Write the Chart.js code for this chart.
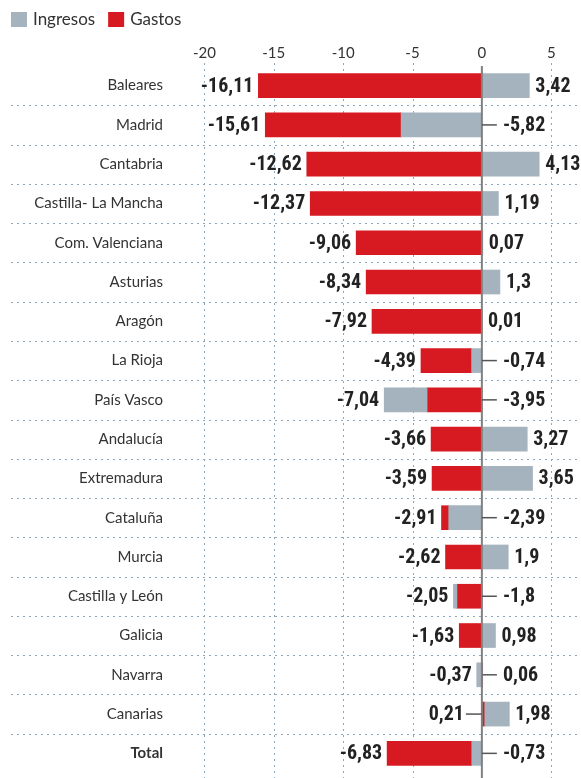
<!DOCTYPE html>
<html>
<head>
<meta charset="utf-8">
<script src="https://cdn.jsdelivr.net/npm/chart.js@4.4.1/dist/chart.umd.min.js"></script>
<style>
  body { margin: 0; background: #fff; }
  canvas { display: block; }
</style>
</head>
<body>
<canvas id="mycanvas" width="581" height="778"></canvas>
<script>
var categorias = ["Baleares", "Madrid", "Cantabria", "Castilla- La Mancha", "Com. Valenciana",
  "Asturias", "Aragón", "La Rioja", "País Vasco", "Andalucía", "Extremadura", "Cataluña",
  "Murcia", "Castilla y León", "Galicia", "Navarra", "Canarias", "Total"];
var ingresos = [3.42, -5.82, 4.13, 1.19, 0.07, 1.3, 0.01, -0.74, -7.04, 3.27, 3.65, -2.39,
  1.9, -2.05, 0.98, -0.37, 1.98, -0.73];
var gastos = [-16.11, -15.61, -12.62, -12.37, -9.06, -8.34, -7.92, -4.39, -3.95, -3.66, -3.59, -2.91,
  -2.62, -1.8, -1.63, 0.06, 0.21, -6.83];
var ticksX = [-20, -15, -10, -5, 0, 5];

var GRIS = "#a4b3bd";
var ROJO = "#d71a21";
var TEXTO = "#333333";
var PUNTOS = "#8ea7ba";
var FUENTE_VALOR = "bold 20px 'Liberation Sans Narrow', 'Roboto Condensed', Lato, sans-serif";

// the smaller bar sits in front, so the one behind only shows past it
function tramo(a, b) {
  if (a * b > 0 && Math.abs(b) < Math.abs(a)) return [b, a];
  return [0, a];
}

var tramoIngresos = [];
var tramoGastos = [];
for (var i in categorias) {
  tramoIngresos.push(tramo(ingresos[i], gastos[i]));
  tramoGastos.push(tramo(gastos[i], ingresos[i]));
}

function fmt(v) {
  return String(v).replace(".", ",");
}

var dibujo = {
  id: "dibujo",
  beforeDatasetsDraw: function(chart) {
    var ctx = chart.ctx;
    var x = chart.scales.x, y = chart.scales.y;
    ctx.save();
    ctx.strokeStyle = PUNTOS;
    ctx.lineWidth = 1;
    ctx.setLineDash([2, 4]);
    // vertical grid
    ticksX.forEach(function(t) {
      if (t === 0) return;
      var px = Math.round(x.getPixelForValue(t)) + 0.5;
      ctx.beginPath();
      ctx.moveTo(px, 63);
      ctx.lineTo(px, 778);
      ctx.stroke();
    });
    // row separators
    for (var k = 0; k < categorias.length - 1; k++) {
      var py = Math.round((y.getPixelForValue(k) + y.getPixelForValue(k + 1)) / 2) + 0.5;
      ctx.beginPath();
      ctx.moveTo(11, py);
      ctx.lineTo(581, py);
      ctx.stroke();
    }
    ctx.restore();
  },
  afterDatasetsDraw: function(chart) {
    var ctx = chart.ctx;
    var x = chart.scales.x, y = chart.scales.y;
    var cero = x.getPixelForValue(0);
    ctx.save();

    // zero line
    ctx.strokeStyle = "#808080";
    ctx.lineWidth = 2;
    ctx.beginPath();
    ctx.moveTo(cero, chart.chartArea.top);
    ctx.lineTo(cero, 778);
    ctx.stroke();

    ctx.textBaseline = "middle";
    for (var k = 0; k < categorias.length; k++) {
      var py = y.getPixelForValue(k);

      // category
      ctx.fillStyle = TEXTO;
      ctx.textAlign = "right";
      ctx.font = (categorias[k] === "Total" ? "bold " : "") + "15px Lato, sans-serif";
      ctx.fillText(categorias[k], 163, py);

      var g = gastos[k], ing = ingresos[k];
      var u = Math.min(g, ing), v = Math.max(g, ing);
      var vEsGasto = (v === g && g !== ing);

      ctx.font = FUENTE_VALOR;
      ctx.fillStyle = "#222";
      ctx.strokeStyle = "#555";
      ctx.lineWidth = 1.5;

      // left label
      ctx.textAlign = "right";
      if (u < 0) {
        ctx.fillText(fmt(u), x.getPixelForValue(u) - 5, py + 1);
      } else {
        ctx.beginPath();
        ctx.moveTo(cero - 16, py);
        ctx.lineTo(cero, py);
        ctx.stroke();
        ctx.fillText(fmt(u), cero - 18, py + 1);
      }

      // right label
      ctx.textAlign = "left";
      if (v > 0 && !vEsGasto) {
        ctx.fillText(fmt(v), x.getPixelForValue(v) + 6, py + 1);
      } else {
        ctx.beginPath();
        ctx.moveTo(Math.max(cero, x.getPixelForValue(v)), py);
        ctx.lineTo(cero + 15, py);
        ctx.stroke();
        ctx.fillText(fmt(v), cero + 21, py + 1);
      }
    }

    // legend
    var items = chart.data.datasets;
    var lx = 11;
    ctx.font = "17px Lato, sans-serif";
    ctx.textAlign = "left";
    items.forEach(function(ds) {
      ctx.fillStyle = ds.backgroundColor;
      ctx.fillRect(lx, 12, 16, 15);
      ctx.fillStyle = TEXTO;
      ctx.fillText(ds.label, lx + 22, 20);
      lx += 22 + ctx.measureText(ds.label).width + 13;
    });
    ctx.restore();
  }
};

var ctx = document.getElementById("mycanvas");

var grafico = new Chart(ctx, {
  type: "bar",
  data: {
    labels: categorias,
    datasets: [
      {
        label: "Ingresos",
        backgroundColor: GRIS,
        data: tramoIngresos,
        grouped: false,
        barThickness: 24,
        borderSkipped: false
      },
      {
        label: "Gastos",
        backgroundColor: ROJO,
        data: tramoGastos,
        grouped: false,
        barThickness: 24,
        borderSkipped: false
      }
    ]
  },
  options: {
    indexAxis: "y",
    responsive: false,
    animation: false,
    layout: { padding: { left: 135, right: 2, top: 0, bottom: 5 } },
    plugins: {
      legend: { display: false },
      tooltip: { enabled: false }
    },
    scales: {
      x: {
        position: "top",
        min: -25,
        max: 7,
        afterBuildTicks: function(axis) {
          axis.ticks = ticksX.map(function(t) { return { value: t }; });
        },
        afterFit: function(axis) {
          axis.height = 66;
        },
        ticks: {
          color: TEXTO,
          font: { family: "Lato", size: 15 },
          padding: 4,
          maxRotation: 0
        },
        grid: { display: false, drawTicks: false },
        border: { display: false }
      },
      y: {
        display: false
      }
    }
  },
  plugins: [dibujo]
});
</script>
</body>
</html>
